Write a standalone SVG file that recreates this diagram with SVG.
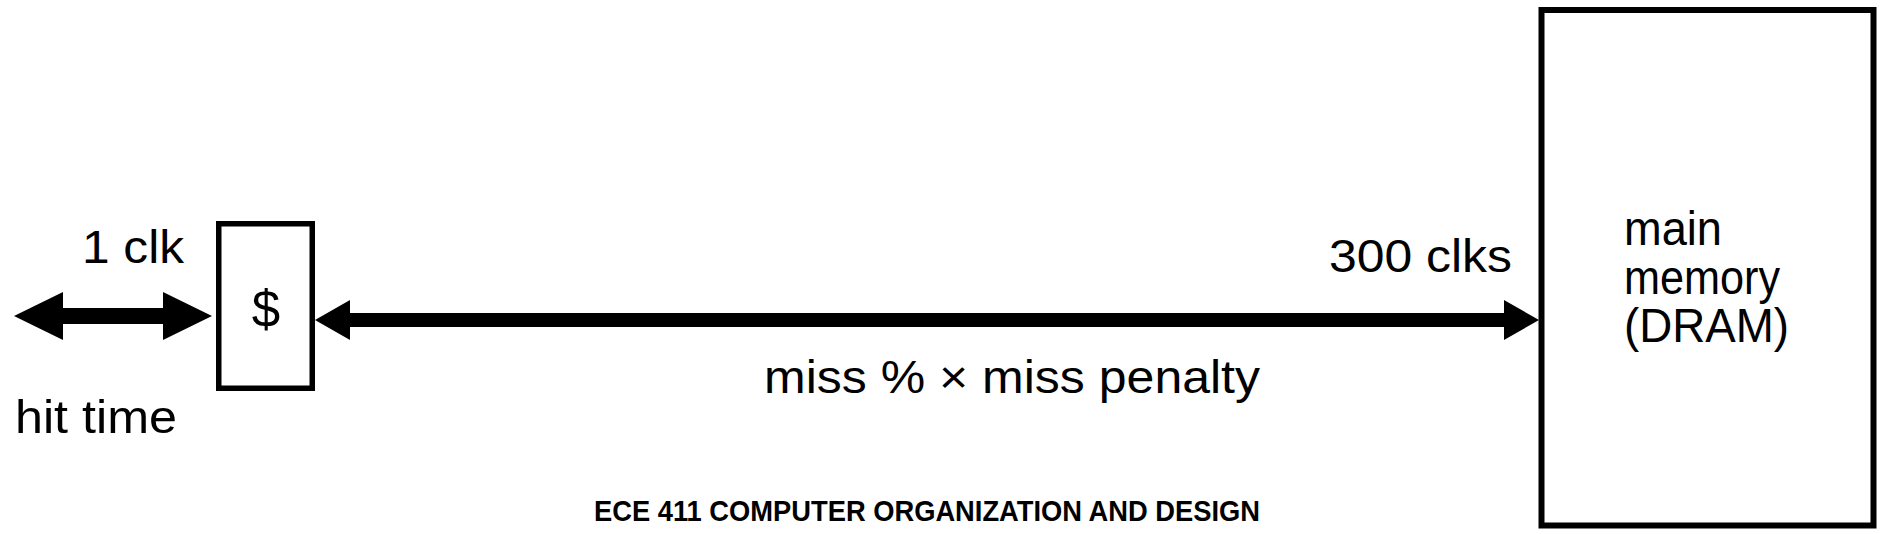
<svg xmlns="http://www.w3.org/2000/svg" width="1882" height="534" viewBox="0 0 1882 534">
<style>
.box{fill:#fff;stroke:#000}
.arrow{fill:#000;stroke:none}
.t{font-family:"Liberation Sans",Arial,sans-serif;fill:#000}
.title{font-family:"Liberation Sans",Arial,sans-serif;font-weight:bold;fill:#000}
</style>
<rect width="1882" height="534" fill="#fff"/>
<g id="connectors">
<polygon class="arrow" points="14,316 63,292 63,308 163,308 163,292 212,316 163,340 163,324 63,324 63,340"/>
<polygon class="arrow" points="315,320 350,300 350,313 1504,313 1504,300 1539,320 1504,340 1504,327 350,327 350,340"/>
</g>
<g id="cache">
<rect class="box" x="218.75" y="223.75" width="93.5" height="164.5" stroke-width="5.5"/>
<text class="t" x="266" y="327" font-size="51" text-anchor="middle">$</text>
</g>
<g id="main-memory">
<rect class="box" x="1541.5" y="10" width="332" height="515.5" stroke-width="6"/>
<text class="t" font-size="48"><tspan x="1624" y="245" textLength="98" lengthAdjust="spacingAndGlyphs">main</tspan><tspan x="1624" y="294" textLength="156" lengthAdjust="spacingAndGlyphs">memory</tspan><tspan x="1624" y="342" textLength="165" lengthAdjust="spacingAndGlyphs">(DRAM)</tspan></text>
</g>
<g id="labels">
<text class="t" x="82" y="263" font-size="46" textLength="102" lengthAdjust="spacingAndGlyphs">1 clk</text>
<text class="t" x="15" y="433" font-size="47" textLength="162" lengthAdjust="spacingAndGlyphs">hit time</text>
<text class="t" x="1329" y="272" font-size="46" textLength="183" lengthAdjust="spacingAndGlyphs">300 clks</text>
<text class="t" x="764" y="393" font-size="46" textLength="496" lengthAdjust="spacingAndGlyphs">miss % × miss penalty</text>
<text class="title" x="594" y="521" font-size="30" textLength="666" lengthAdjust="spacingAndGlyphs">ECE 411 COMPUTER ORGANIZATION AND DESIGN</text>
</g>
</svg>
